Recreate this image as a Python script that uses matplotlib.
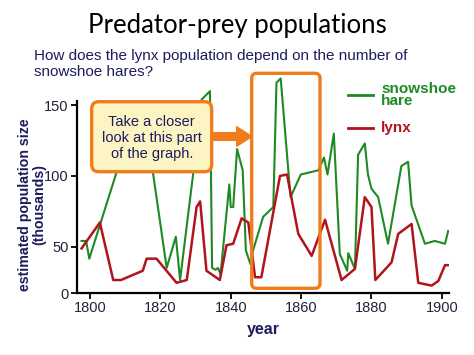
import numpy as np
import matplotlib.pyplot as plt
from matplotlib.patches import FancyBboxPatch, FancyArrowPatch

# values (thousands)
hare_years = [1797.6, 1798.9, 1799.8, 1807.1, 1812.0, 1816.0, 1821.8, 1824.4, 1825.6,
              1829.3, 1831.7, 1834.1, 1834.7, 1835.7, 1836.4, 1837.1, 1839.6, 1840.0,
              1840.7, 1841.8, 1843.4, 1844.3, 1845.6, 1846.2, 1849.2, 1852.1, 1853.0,
              1854.2, 1857.0, 1859.9, 1864.9, 1866.5, 1867.5, 1869.3, 1871.0, 1873.1,
              1873.4, 1875.3, 1876.2, 1878.1, 1879.0, 1880.0, 1881.9, 1884.7, 1888.5,
              1890.4, 1891.4, 1895.2, 1898.0, 1900.9, 1901.8]
hare = [54, 54, 37, 99, 140, 135, 27, 57, 14,
        101, 154, 160, 27, 25, 27, 20, 94, 78,
        78, 119, 104, 46, 31, 44, 71, 78, 166,
        169, 85, 101, 104, 113, 101, 130, 42, 24,
        43, 26, 115, 123, 101, 91, 85, 52, 107,
        110, 79, 52, 54, 52, 61]

lynx_years = [1797.6, 1802.8, 1806.6, 1808.8, 1815.0, 1816.1, 1818.9, 1824.6, 1827.5,
              1830.3, 1831.3, 1833.1, 1836.9, 1838.8, 1840.7, 1843.1, 1845.0, 1846.9,
              1848.7, 1854.0, 1856.0, 1859.2, 1863.0, 1866.8, 1871.5, 1875.3, 1878.1,
              1880.0, 1881.1, 1885.7, 1887.6, 1891.4, 1893.3, 1897.1, 1899.0, 1900.9,
              1901.8]
lynx = [48, 67, 14, 14, 24, 37, 37, 11, 14,
        78, 82, 24, 14, 51, 52, 70, 67, 17,
        17, 100, 101, 59, 40, 69, 14, 26, 85,
        78, 14, 33, 59, 66, 11, 8, 13, 30,
        30]

x_ticks = [1800, 1820, 1840, 1860, 1880, 1900]
y_ticks = [0, 50, 100, 150]

NAVY = '#1c1c5c'
ORANGE = '#f07c1c'
GREEN = '#1f8a24'
RED = '#b0141c'


# the original y axis is squeezed below 50
def fwd(y):
    y = np.asarray(y, dtype=float)
    return np.where(y >= 50, y, 50 - (50 - y) * 46 / 70)


def inv(t):
    t = np.asarray(t, dtype=float)
    return np.where(t >= 50, t, 50 - (50 - t) * 70 / 46)


plt.rcParams['font.family'] = ['Liberation Sans', 'DejaVu Sans']

fig = plt.figure(figsize=(4.74, 3.55), dpi=100)
ax = fig.add_axes([0.1624, 0.1746, 0.7846, 0.614])

ax.plot(hare_years, hare, color=GREEN, lw=1.5, zorder=3)
ax.plot(lynx_years, lynx, color=RED, lw=1.8, zorder=3)

ax.set_yscale('function', functions=(fwd, inv))
ax.set_xlim(1796.3, 1902)
ax.set_ylim(0, 171.4)
ax.set_xticks(x_ticks)
ax.set_yticks(y_ticks)
ax.tick_params(direction='out', length=4, width=1.3, labelsize=10.5,
               labelcolor='#22223a', pad=2)
for s in ['top', 'right']:
    ax.spines[s].set_visible(False)
for s in ['left', 'bottom']:
    ax.spines[s].set_linewidth(1.6)
ax.spines['left'].set_bounds(0, 153)

ax.set_xlabel('year', fontsize=11.5, fontweight='bold', color=NAVY, labelpad=5)
ax.set_ylabel('estimated population size\n(thousands)', fontsize=10.2,
              fontweight='bold', color=NAVY, linespacing=1.0)
ax.yaxis.set_label_coords(-0.083, 0.405)

fig.text(0.5, 1 - 26 / 355, 'Predator-prey populations', ha='center', va='center',
         fontsize=18.5, family=['Lato', 'DejaVu Sans'], color='black')
fig.text(34 / 474, 1 - 64 / 355,
         'How does the lynx population depend on the number of\nsnowshoe hares?',
         ha='left', va='center', fontsize=11, color=NAVY, linespacing=1.2)


def px(x, y):
    return (x / 100, (355 - y) / 100)


tr = fig.dpi_scale_trans

# highlight rectangle
x0, y0 = px(251.7, 288.3)
x1, y1 = px(320, 73.3)
ax.add_patch(FancyBboxPatch((x0, y0), x1 - x0, y1 - y0,
                            boxstyle='round,pad=0,rounding_size=0.05',
                            fc='none', ec=ORANGE, lw=2.4, transform=tr,
                            clip_on=False, zorder=6))

# arrow from the note to the rectangle
ax.add_patch(FancyArrowPatch(px(208, 136.5), px(252, 136.5), transform=tr,
                             arrowstyle='simple,head_width=1.4,head_length=1.1,tail_width=0.55',
                             mutation_scale=10, color=ORANGE, clip_on=False,
                             zorder=6, shrinkA=0, shrinkB=0))

# note box
bx0, by0 = px(91.7, 171.7)
bx1, by1 = px(211.7, 101.7)
ax.add_patch(FancyBboxPatch((bx0, by0), bx1 - bx0, by1 - by0,
                            boxstyle='round,pad=0,rounding_size=0.07',
                            fc='#fdf4c4', ec=ORANGE, lw=2.4, transform=tr,
                            clip_on=False, zorder=7))
tx, ty = px(151.7, 138)
ax.text(tx, ty, 'Take a closer\nlook at this part\nof the graph.', transform=tr,
        ha='center', va='center', fontsize=10.5, color=NAVY, linespacing=1.2,
        zorder=8)

# legend drawn by hand, as in the reference
for label, col, ly in [('snowshoe\nhare', GREEN, 95), ('lynx', RED, 128)]:
    lx0, lyy = px(348, ly)
    lx1, _ = px(373, ly)
    ax.plot([lx0, lx1], [lyy, lyy], color=col, lw=2, transform=tr,
            clip_on=False)
    ax.text(px(381, ly)[0], lyy, label, transform=tr, ha='left', va='center',
            fontsize=11, fontweight='bold', color=col, linespacing=0.85)

fig.savefig('out.png', dpi=100)
